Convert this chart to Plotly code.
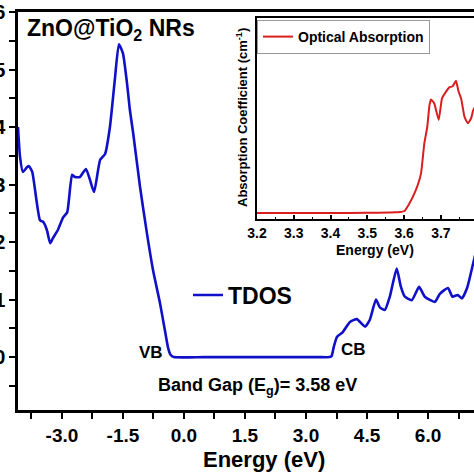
import plotly.graph_objects as go

# TDOS (main panel)
tdos_energy = [-4.08, -4.03, -3.96, -3.86, -3.81, -3.73, -3.54, -3.46, -3.37, -3.29, -3.22, -3.10,
               -2.97, -2.87, -2.75, -2.68, -2.56, -2.41, -2.31, -2.21, -2.06, -1.94, -1.82, -1.70,
               -1.60, -1.50, -1.40, -1.33, -1.25, -1.08, -0.91, -0.76, -0.59, -0.47, -0.39, -0.33,
               -0.25, 0.5, 1.5, 2.5, 3.3, 3.58, 3.63, 3.68, 3.76, 3.90, 4.08, 4.25, 4.45, 4.57, 4.72, 4.82,
               4.94, 5.06, 5.23, 5.33, 5.43, 5.60, 5.78, 5.92, 6.17, 6.29, 6.49, 6.60, 6.73,
               6.83, 6.96, 7.10, 7.20]
tdos_value = [4.00, 3.48, 3.22, 3.30, 3.32, 3.22, 2.38, 2.35, 2.21, 1.98, 2.07, 2.21,
              2.43, 2.52, 3.17, 3.13, 3.13, 3.27, 3.08, 2.87, 3.43, 3.53, 4.00, 4.82,
              5.44, 5.28, 4.76, 4.30, 3.90, 2.96, 2.15, 1.51, 0.94, 0.47, 0.16, 0.04,
              0.0, 0.0, 0.0, 0.0, 0.0, 0.0, 0.02, 0.17, 0.35, 0.43, 0.61, 0.66, 0.53, 0.65, 1.00, 0.86,
              0.82, 1.05, 1.54, 1.23, 1.05, 0.99, 1.22, 1.05, 0.96, 1.10, 1.20, 1.05, 1.08,
              1.02, 1.20, 1.60, 1.90]

# Optical absorption (inset)
abs_energy = [3.20, 3.30, 3.40, 3.50, 3.56, 3.58, 3.590, 3.601, 3.612, 3.624, 3.637, 3.646, 3.655,
              3.663, 3.669, 3.673, 3.682, 3.694, 3.703, 3.714, 3.723, 3.732, 3.741,
              3.748, 3.755, 3.764, 3.773, 3.782, 3.788, 3.800]
abs_value = [0.030, 0.030, 0.030, 0.031, 0.032, 0.034, 0.035, 0.040, 0.070, 0.111, 0.169, 0.227, 0.377,
             0.459, 0.567, 0.595, 0.575, 0.493, 0.600, 0.634, 0.655, 0.660, 0.688,
             0.634, 0.600, 0.509, 0.476, 0.500, 0.542, 0.580]

main_xticks = [-3.0, -1.5, 0.0, 1.5, 3.0, 4.5, 6.0]
main_xticklabels = ["-3.0", "-1.5", "0.0", "1.5", "3.0", "4.5", "6.0"]
main_yticks = [0, 1, 2, 3, 4, 5, 6]
inset_xticks = [3.2, 3.3, 3.4, 3.5, 3.6, 3.7]

FONT = "Liberation Sans, Arial, sans-serif"
BLUE = "#1010c8"
RED = "#d81e1e"

L, T, B = 18, 12, 64
W = 474 - L
H = 474 - T - B


def px(xp):
    return (xp - L) / W


def py(yp):
    return (474 - B - yp) / H


fig = go.Figure()
fig.add_trace(go.Scatter(x=tdos_energy, y=tdos_value, mode="lines", name="TDOS",
                         line=dict(color=BLUE, width=2.6, shape="spline", smoothing=0.5),
                         xaxis="x", yaxis="y", legend="legend", showlegend=True))
fig.add_trace(go.Scatter(x=abs_energy, y=abs_value, mode="lines", name="Optical Absorption",
                         line=dict(color=RED, width=2, shape="spline", smoothing=0.4),
                         xaxis="x2", yaxis="y2", legend="legend2", showlegend=True))

fig.update_layout(
    width=474, height=474,
    margin=dict(l=L, r=0, t=T, b=B, autoexpand=False),
    paper_bgcolor="white", plot_bgcolor="white",
    font=dict(family=FONT, color="black"),
    showlegend=True,
    xaxis=dict(domain=[0, 1], range=[-4.08, 7.13], tickmode="array", automargin=False,
               tickvals=main_xticks, ticktext=main_xticklabels,
               showgrid=False, zeroline=False, showline=True, linecolor="black", linewidth=2.5,
               mirror=True, ticks="outside", ticklen=6, tickwidth=2, tickcolor="black",
               minor=dict(dtick=0.75, tick0=0, ticks="outside", ticklen=6, tickwidth=2, tickcolor="black"),
               tickfont=dict(size=19, weight="bold", family=FONT)),
    yaxis=dict(domain=[0, 1], range=[-0.92, 6.0], tickmode="array", tickvals=main_yticks,
               automargin=False,
               showgrid=False, zeroline=False, showline=True, linecolor="black", linewidth=2.5,
               mirror=False, ticks="outside", ticklen=6, tickwidth=2, tickcolor="black",
               minor=dict(dtick=0.5, tick0=0, ticks="outside", ticklen=6, tickwidth=2, tickcolor="black"),
               tickfont=dict(size=20, weight="bold", family=FONT)),
    xaxis2=dict(domain=[px(257), 1], anchor="y2", range=[3.2, 3.79], tickmode="array",
                automargin=False,
                tickvals=inset_xticks, showgrid=False, zeroline=False, showline=True,
                linecolor="black", linewidth=1.5, mirror=True, ticks="inside", ticklen=4,
                tickwidth=1.5, tickcolor="black",
                minor=dict(dtick=0.05, tick0=3.2, ticks="inside", ticklen=2, tickwidth=1, tickcolor="black"),
                tickfont=dict(size=14, weight="bold", family=FONT)),
    yaxis2=dict(domain=[py(219), py(18)], anchor="x2", range=[0, 1], showticklabels=False,
                automargin=False,
                showgrid=False, zeroline=False, showline=True, linecolor="black", linewidth=1.5,
                ticks=""),
    legend=dict(x=px(188), y=py(295), xanchor="left", yanchor="middle", bgcolor="rgba(0,0,0,0)",
                borderwidth=0, font=dict(size=23, weight="bold", family=FONT)),
    legend2=dict(x=px(257), y=py(20), xanchor="left", yanchor="top", bgcolor="white",
                 bordercolor="#999999", borderwidth=1, font=dict(size=14, weight="bold", family=FONT),
                 tracegroupgap=0),
    annotations=[
        dict(text="ZnO@TiO<sub>2</sub> NRs", x=px(25), y=py(30), xref="paper", yref="paper",
             showarrow=False, font=dict(size=23, weight="bold"), xanchor="left", yanchor="middle"),
        dict(text="Energy (eV)", x=px(264), y=py(459), xref="paper", yref="paper",
             showarrow=False, font=dict(size=22, weight="bold"), xanchor="center", yanchor="middle"),
        dict(text="Energy (eV)", x=px(375), y=py(250), xref="paper", yref="paper",
             showarrow=False, font=dict(size=14, weight="bold"), xanchor="center", yanchor="middle"),
        dict(text="Absorption Coefficient (cm<sup>-1</sup>)", x=px(242), y=py(118),
             xref="paper", yref="paper", textangle=-90, showarrow=False,
             font=dict(size=13, weight="bold"), xanchor="center", yanchor="middle"),
        dict(text="VB", x=px(151), y=py(352), xref="paper", yref="paper", showarrow=False,
             font=dict(size=17, weight="bold"), xanchor="center", yanchor="middle"),
        dict(text="CB", x=px(353), y=py(349), xref="paper", yref="paper", showarrow=False,
             font=dict(size=17, weight="bold"), xanchor="center", yanchor="middle"),
        dict(text="Band Gap (E<sub>g</sub>)= 3.58 eV", x=px(257), y=py(386), xref="paper",
             yref="paper", showarrow=False, font=dict(size=18, weight="bold"),
             xanchor="center", yanchor="middle"),
    ],
)

fig.write_html("out.html", post_script="document.body.style.margin='0px';",
               config={"displayModeBar": False})
